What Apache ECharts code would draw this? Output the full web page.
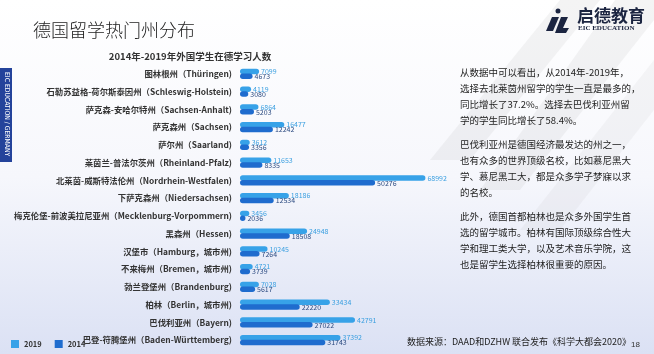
<!DOCTYPE html>
<html><head><meta charset="utf-8">
<script src="https://cdn.jsdelivr.net/npm/echarts@6/dist/echarts.min.js"></script>
<style>html,body{margin:0;padding:0;background:#fff}#c{width:654px;height:354px}</style>
</head><body><div id="c"></div>
<script>
const categories = [
  '图林根州（Thüringen)',
  '石勒苏益格-荷尔斯泰因州（Schleswig-Holstein)',
  '萨克森-安哈尔特州（Sachsen-Anhalt)',
  '萨克森州（Sachsen)',
  '萨尔州（Saarland)',
  '莱茵兰-普法尔茨州（Rheinland-Pfalz)',
  '北莱茵-威斯特法伦州（Nordrhein-Westfalen)',
  '下萨克森州（Niedersachsen)',
  '梅克伦堡-前波美拉尼亚州（Mecklenburg-Vorpommern)',
  '黑森州（Hessen)',
  '汉堡市（Hamburg，城市州)',
  '不来梅州（Bremen，城市州)',
  '勃兰登堡州（Brandenburg)',
  '柏林（Berlin，城市州)',
  '巴伐利亚州（Bayern)',
  '巴登-符腾堡州（Baden-Württemberg)'
];
const values2019 = [7099, 4119, 6864, 16477, 3612, 11653, 68992, 18186, 3456, 24948, 10245, 4721, 7028, 33434, 42791, 37392];
const values2014 = [4673, 3080, 5203, 12242, 3356, 8335, 50276, 12534, 2036, 18508, 7264, 3739, 5617, 22220, 27022, 31743];
const seriesNames = ['2019', '2014'];

const paragraphs = [
  '从数据中可以看出，从2014年-2019年，\n选择去北莱茵州留学的学生一直是最多的，\n同比增长了37.2%。选择去巴伐利亚州留\n学的学生同比增长了58.4%。',
  '巴伐利亚州是德国经济最发达的州之一，\n也有众多的世界顶级名校，比如慕尼黑大\n学、慕尼黑工大，都是众多学子梦寐以求\n的名校。',
  '此外，德国首都柏林也是众多外国学生首\n选的留学城市。柏林有国际顶级综合性大\n学和理工类大学，以及艺术音乐学院，这\n也是留学生选择柏林很重要的原因。'
];

const chart = echarts.init(document.getElementById('c'), null, {renderer: 'canvas'});
const FONT = '"Noto Sans CJK SC", "Noto Sans", sans-serif';
const c2019 = '#37a2e8', c2014 = '#1f6cce';

const graphics = [
  {type:'rect', z:-10, shape:{x:0,y:0,width:654,height:354},
   style:{fill:new echarts.graphic.LinearGradient(0,0,0,1,[{offset:0,color:'#ffffff'},{offset:0.5,color:'#f6f7fc'},{offset:1,color:'#dbe1f4'}])}},
  {type:'polygon', z:-9, shape:{points:[[560,0],[600,0],[470,160],[430,160]]}, style:{fill:'rgba(150,150,150,0.10)'}},
  {type:'polygon', z:-9, shape:{points:[[615,0],[654,0],[654,20],[520,190],[480,190]]}, style:{fill:'rgba(150,150,150,0.10)'}},
  {type:'polygon', z:-9, shape:{points:[[654,60],[654,110],[560,230],[520,230]]}, style:{fill:'rgba(150,150,150,0.08)'}},
  {type:'text', left:33, top:21, style:{text:'德国留学热门州分布', font:'300 18px '+FONT, fill:'#222'}},
  {type:'rect', shape:{x:0,y:68,width:12,height:94}, style:{fill:'#24439b'}},
  {type:'text', x:10, y:72, rotation:-Math.PI/2, style:{text:'EIC EDUCATION / GERMANY', font:'6.8px "DejaVu Sans Condensed", "DejaVu Sans", sans-serif', fill:'#fff', verticalAlign:'top'}},
  {type:'circle', shape:{cx:558,cy:11,r:2.5}, style:{fill:'#1b2440'}},
  {type:'polygon', shape:{points:[[552,17],[559,17],[553,31],[546,31]]}, style:{fill:'#1b2440'}},
  {type:'polygon', shape:{points:[[561,17],[568,17],[563,28],[569,28],[566,33],[555,33]]}, style:{fill:'#1b2440'}},
  {type:'text', left:577, top:7, style:{text:'启德教育', font:'bold 17px "Noto Sans CJK SC", serif', fill:'#1b2440'}},
  {type:'text', left:578, top:25, style:{text:'EIC EDUCATION', font:'bold 7px "Liberation Serif", serif', fill:'#1b2440'}},
  {type:'text', left:407, top:337, style:{text:'数据来源：DAAD和DZHW 联合发布《科学大都会2020》', font:'9px '+FONT, fill:'#222'}},
  {type:'text', left:631, top:341, style:{text:'18', font:'8px "Liberation Sans", sans-serif', fill:'#333'}}
];
const paraTops = [64, 136, 208];
paragraphs.forEach((p, i) => {
  graphics.push({type:'text', left:460, top:paraTops[i], style:{text:p, font:'9.5px '+FONT, lineHeight:16, fill:'#222'}});
});

chart.setOption({
  animation:false,
  textStyle:{fontFamily:FONT},
  title:{text:'2014年-2019年外国学生在德学习人数', left:185, top:47, textAlign:'center',
    textStyle:{fontSize:9.5, fontWeight:'bold', color:'#333', fontFamily:FONT}},
  legend:{data:seriesNames, left:6, top:335, itemWidth:8, itemHeight:8, itemGap:13, icon:'rect',
    textStyle:{fontSize:7.5, fontWeight:'bold', color:'#333'}},
  grid:{left:240, top:65, width:215, height:284, containLabel:false},
  xAxis:{type:'value', min:0, max:80000, show:false},
  yAxis:{type:'category', data:categories, inverse:true,
    axisLine:{show:false}, axisTick:{show:false},
    axisLabel:{fontSize:8.4, fontWeight:'bold', color:'#333', margin:8}},
  series:[
    {name:seriesNames[0], type:'bar', data:values2019, barWidth:5.5, barGap:'-10%',
     itemStyle:{color:c2019, borderRadius:3},
     label:{show:true, position:'right', distance:2, fontSize:7, color:'#3a9fe0'}},
    {name:seriesNames[1], type:'bar', data:values2014, barWidth:5.5,
     itemStyle:{color:c2014, borderRadius:3},
     label:{show:true, position:'right', distance:2, fontSize:7, color:'#2b4a80'}}
  ],
  graphic:graphics
});
</script></body></html>
